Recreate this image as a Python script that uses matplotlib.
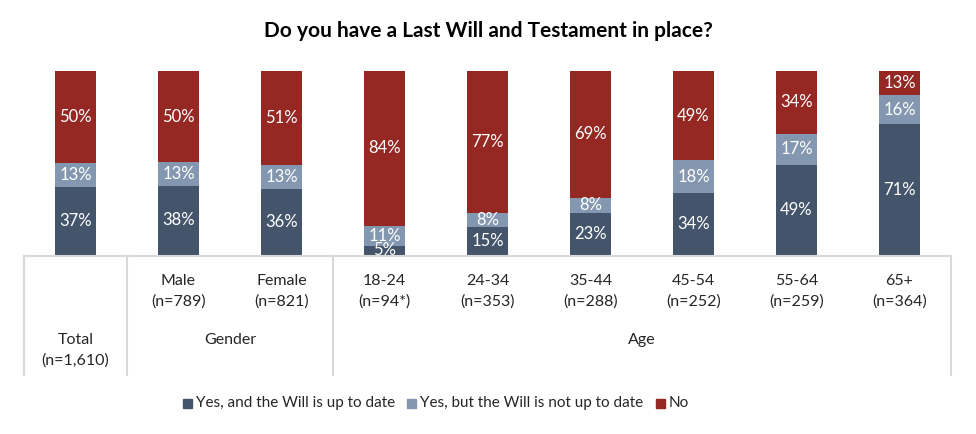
import numpy as np
import matplotlib.pyplot as plt
from matplotlib.lines import Line2D
from matplotlib.patches import Rectangle

plt.rcParams['font.family'] = ['Lato', 'DejaVu Sans']

groups = ['Total', 'Male', 'Female', '18-24', '24-34', '35-44', '45-54', '55-64', '65+']
sizes = ['(n=1,610)', '(n=789)', '(n=821)', '(n=94*)', '(n=353)', '(n=288)', '(n=252)', '(n=259)', '(n=364)']
yes_uptodate = [37, 38, 36, 5, 15, 23, 34, 49, 71]
yes_outdated = [13, 13, 13, 11, 8, 8, 18, 17, 16]
no_will = [50, 50, 51, 84, 77, 69, 49, 34, 13]

series_names = ['Yes, and the Will is up to date', 'Yes, but the Will is not up to date', 'No']
colors = ['#44546A', '#8497B0', '#952823']

W, H = 976, 434
fig = plt.figure(figsize=(W / 100, H / 100), dpi=100)

def fx(px):
    return px / W

def fy(py):
    return 1 - py / H

ax = fig.add_axes([fx(24), fy(255), fx(951) - fx(24), fy(71) - fy(255)])

vals = np.array([yes_uptodate, yes_outdated, no_will], dtype=float)
pct = vals / vals.sum(axis=0) * 100
x = np.arange(len(groups))
bottom = np.zeros(len(groups))
for i in range(3):
    ax.bar(x, pct[i], bottom=bottom, width=0.4, color=colors[i], zorder=2)
    for j in range(len(groups)):
        ax.text(x[j], bottom[j] + pct[i][j] / 2, f'{int(vals[i][j])}%', ha='center', va='center',
                color='white', fontsize=12)
    bottom += pct[i]

ax.set_xlim(-0.5, len(groups) - 0.5)
ax.set_ylim(0, 100)
ax.axis('off')

# table-like category area below the bars
grey = '#D9D9D9'
fig.add_artist(Line2D([fx(24), fx(951)], [fy(256), fy(256)], color=grey, lw=1.5))
for px in [24, 127, 333, 951]:
    fig.add_artist(Line2D([fx(px), fx(px)], [fy(256), fy(375)], color=grey, lw=1.5))

txt = '#262626'
centers = [75.5 + 103 * k for k in range(len(groups))]
for k in range(1, len(groups)):
    fig.text(fx(centers[k]), fy(281), groups[k], ha='center', va='center', fontsize=11.5, color=txt)
    fig.text(fx(centers[k]), fy(302), sizes[k], ha='center', va='center', fontsize=11.5, color=txt)
fig.text(fx(centers[0]), fy(340), groups[0], ha='center', va='center', fontsize=11.5, color=txt)
fig.text(fx(centers[0]), fy(361), sizes[0], ha='center', va='center', fontsize=11.5, color=txt)
fig.text(fx(230), fy(340), 'Gender', ha='center', va='center', fontsize=11.5, color=txt)
fig.text(fx(642), fy(340), 'Age', ha='center', va='center', fontsize=11.5, color=txt)

fig.text(0.5, fy(31), 'Do you have a Last Will and Testament in place?', ha='center', va='center',
         fontsize=15, fontweight='bold', color='black')

# legend
leg_x = [183, 407, 656]
for px, name, c in zip(leg_x, series_names, colors):
    fig.add_artist(Rectangle((fx(px), fy(408)), fx(9), fy(399) - fy(408), color=c))
    fig.text(fx(px + 13), fy(403), name, ha='left', va='center', fontsize=11, color=txt)

fig.savefig('out.png', dpi=100)
